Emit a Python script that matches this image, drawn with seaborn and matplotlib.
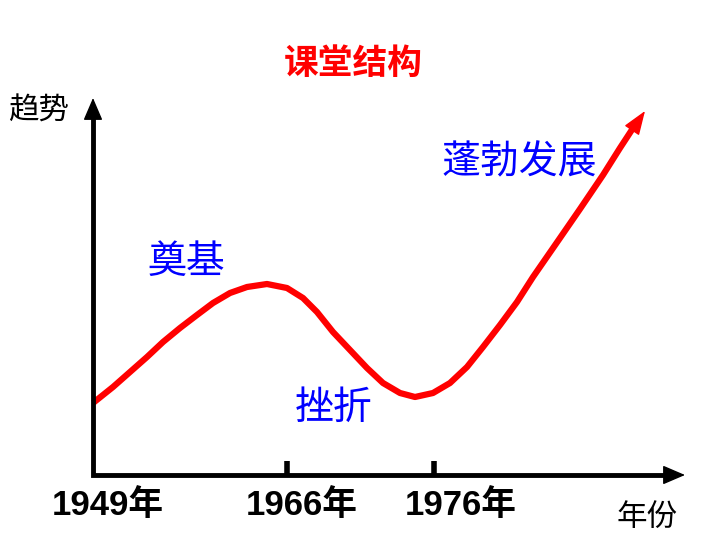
import matplotlib
matplotlib.use("Agg")
import matplotlib.pyplot as plt
import seaborn as sns
import pandas as pd

sns.set_theme(style="white")
plt.rcParams['font.family'] = ['Noto Sans CJK SC', 'DejaVu Sans']

# schematic data (x: timeline position, y: trend level)
curve_x = [0, 20, 37, 54, 70, 87, 104, 120, 137, 154, 174, 194, 210, 224, 240, 257, 274,
           290, 307, 322, 340, 357, 374, 390, 407, 424, 440, 467, 487, 510, 527, 544]
curve_y = [72, 88, 103, 118, 133, 147, 160, 172, 182, 188, 191, 187, 177, 163, 143, 125, 107,
           92, 82, 78, 82, 92, 108, 128, 150, 173, 198, 237, 266, 300, 327, 353]
arrow_tip = (552, 364)
tick_pos = [0, 194, 341]
tick_labels = ["1949年", "1966年", "1976年"]
tick_label_x = [15, 209, 368]
stage_labels = ["奠基", "挫折", "蓬勃发展"]
stage_x = [93, 241, 426]
stage_y = [213, 67, 313]

fig = plt.figure(figsize=(7.2, 5.4), dpi=100)
ax = fig.add_axes([0, 0, 1, 1])
ax.set_xlim(-93, 627)
ax.set_ylim(-65, 475)
ax.axis('off')

df = pd.DataFrame({"x": curve_x, "y": curve_y})
sns.lineplot(data=df, x="x", y="y", sort=False, color="#ff0000", linewidth=4.5,
             ax=ax, solid_capstyle='butt', solid_joinstyle='round')
ax.annotate('', xy=arrow_tip, xytext=(curve_x[-2], curve_y[-2]),
            arrowprops=dict(arrowstyle='-|>,head_length=1.5,head_width=0.55', color='#ff0000',
                            lw=1, mutation_scale=10, shrinkA=0, shrinkB=0))

# axes with arrows
ax.plot([0, 0, 580], [365, 0, 0], color='black', lw=3.5, solid_joinstyle='miter')
ax.annotate('', xy=(592, 0), xytext=(570, 0),
            arrowprops=dict(arrowstyle='-|>,head_length=1.4,head_width=0.6', color='black',
                            lw=1, mutation_scale=10, shrinkA=0, shrinkB=0))
ax.annotate('', xy=(0, 377), xytext=(0, 355),
            arrowprops=dict(arrowstyle='-|>,head_length=1.4,head_width=0.6', color='black',
                            lw=1, mutation_scale=10, shrinkA=0, shrinkB=0))
ax.vlines(tick_pos[1:], 0, 14, color='black', lw=4)

for lx, lab in zip(tick_label_x, tick_labels):
    ax.text(lx, -30, lab, ha='center', va='center', fontsize=25, fontweight='bold',
            family=['Liberation Sans', 'Noto Sans CJK SC'], color='black')

for sx, sy, lab in zip(stage_x, stage_y, stage_labels):
    ax.text(sx, sy, lab, ha='center', va='center', fontsize=28, color='#0000ff')

ax.text(260, 412, "课堂结构", ha='center', va='center', fontsize=25, fontweight='bold', color='#ff0000')
ax.text(-54, 364, "趋势", ha='center', va='center', fontsize=22, color='black')
ax.text(554, -42, "年份", ha='center', va='center', fontsize=22, color='black')

fig.savefig("out.png", dpi=100, facecolor='white')
